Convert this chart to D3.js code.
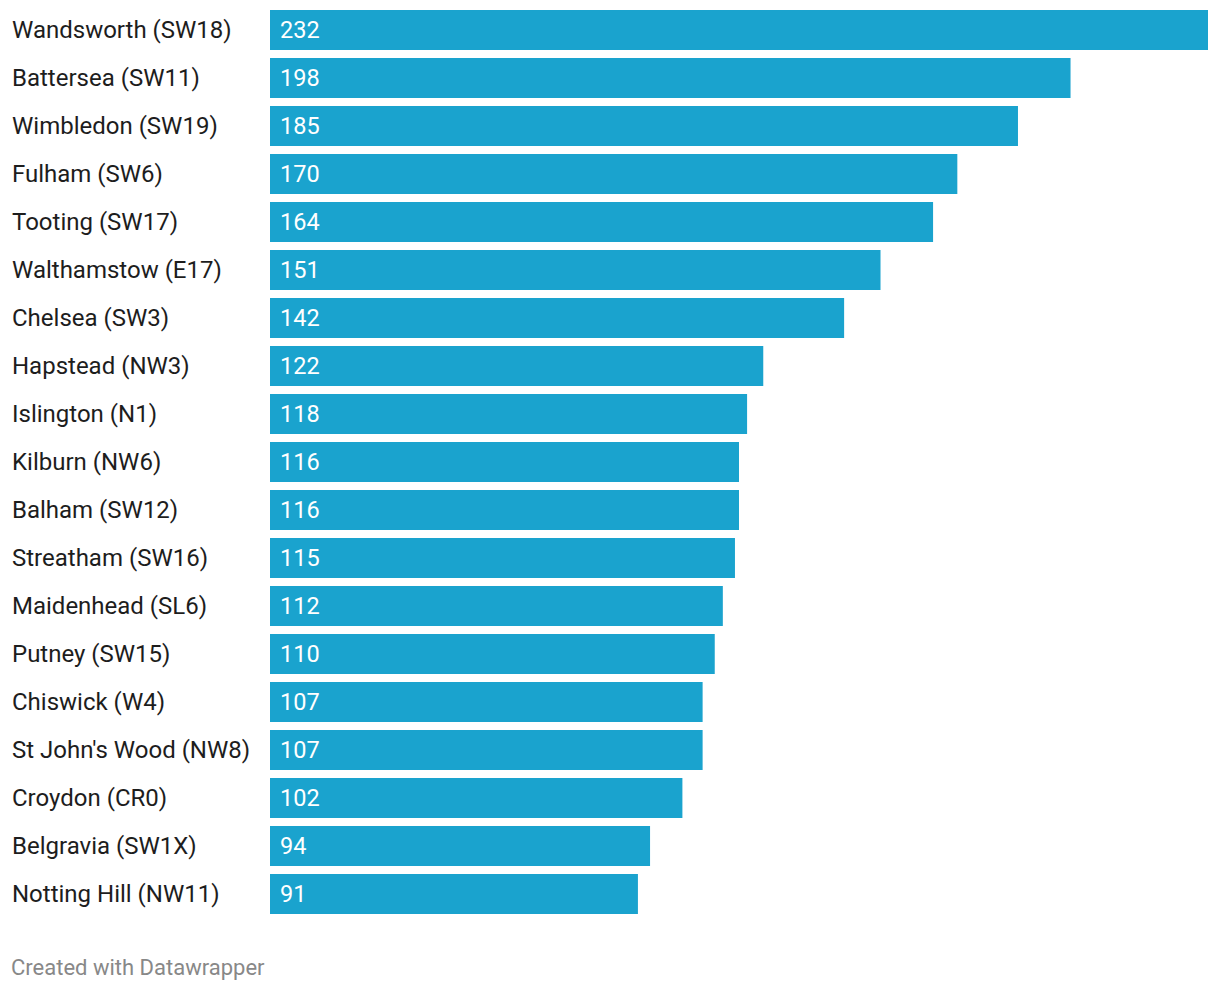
<!DOCTYPE html>
<html><head><meta charset="utf-8">
<script src="https://cdn.jsdelivr.net/npm/d3@7"></script>
<style>body{margin:0;background:#fff}</style>
</head><body>
<svg id="chart" width="1220" height="990"></svg>
<script>
const categories = ["Wandsworth (SW18)","Battersea (SW11)","Wimbledon (SW19)","Fulham (SW6)","Tooting (SW17)","Walthamstow (E17)","Chelsea (SW3)","Hapstead (NW3)","Islington (N1)","Kilburn (NW6)","Balham (SW12)","Streatham (SW16)","Maidenhead (SL6)","Putney (SW15)","Chiswick (W4)","St John's Wood (NW8)","Croydon (CR0)","Belgravia (SW1X)","Notting Hill (NW11)"];
const values = [232,198,185,170,164,151,142,122,118,116,116,115,112,110,107,107,102,94,91];
const footer = "Created with Datawrapper";

const svg = d3.select("#chart");
const font = "Roboto, sans-serif";
const x = d3.scaleLinear().domain([0, 232]).range([270, 1208]);
const y = d3.scaleBand().domain(categories).range([6, 6 + 48 * categories.length]).paddingInner(8/48).paddingOuter(4/48);

const g = svg.append("g");
const rows = g.selectAll("g.row").data(categories.map((c,i)=>({c, v: values[i]}))).join("g").attr("class","row");
rows.append("rect")
  .attr("x", x(0)).attr("y", d => y(d.c))
  .attr("width", d => x(d.v) - x(0)).attr("height", y.bandwidth())
  .attr("fill", "#1aa3ce");
rows.append("text")
  .attr("x", 12).attr("y", d => y(d.c) + y.bandwidth()/2)
  .attr("dy", "0.34em")
  .attr("font-family", font).attr("font-size", 24).attr("fill", "#1d1d1d")
  .text(d => d.c);
rows.append("text")
  .attr("x", x(0) + 10).attr("y", d => y(d.c) + y.bandwidth()/2)
  .attr("dy", "0.34em")
  .attr("font-family", font).attr("font-size", 23.5).attr("fill", "#ffffff")
  .text(d => d.v);

svg.append("text").attr("x", 11).attr("y", 975)
  .attr("font-family", font).attr("font-size", 22).attr("fill", "#888888")
  .text(footer);
</script>
</body></html>
